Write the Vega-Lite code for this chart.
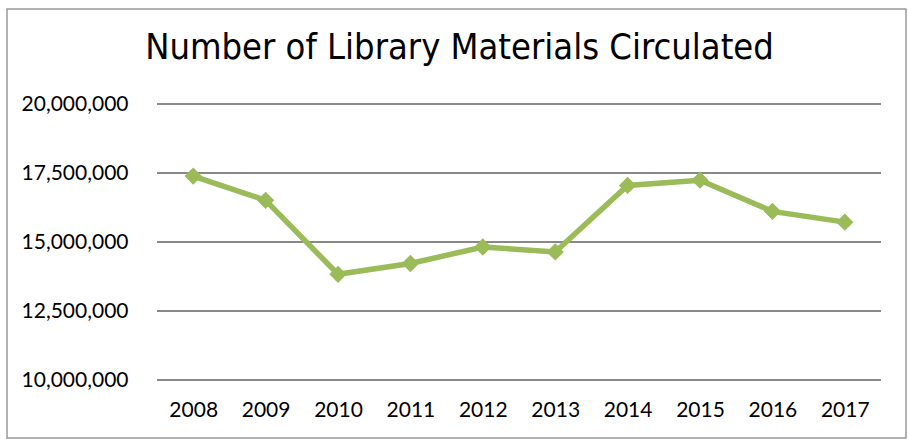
{
  "$schema": "https://vega.github.io/schema/vega-lite/v6.json",
  "width": 899,
  "height": 429,
  "autosize": {"type": "none"},
  "padding": {"left": 7, "top": 9, "right": 3, "bottom": 1},
  "background": "white",
  "config": {
    "view": {"stroke": "#999999", "strokeWidth": 1.5},
    "font": "Lato"
  },
  "title": {
    "text": "Number of Library Materials Circulated",
    "font": "DejaVu Sans Condensed, Liberation Sans",
    "fontSize": 36,
    "fontWeight": "normal",
    "color": "#000000",
    "anchor": "middle",
    "frame": "group",
    "baseline": "alphabetic",
    "offset": -53,
    "dy": 33,
    "dx": 3
  },
  "datasets": {
    "circ": [
      {"year": 2008, "items": 17390000},
      {"year": 2009, "items": 16510000},
      {"year": 2010, "items": 13830000},
      {"year": 2011, "items": 14220000},
      {"year": 2012, "items": 14820000},
      {"year": 2013, "items": 14640000},
      {"year": 2014, "items": 17050000},
      {"year": 2015, "items": 17240000},
      {"year": 2016, "items": 16110000},
      {"year": 2017, "items": 15720000}
    ],
    "grid": [
      {"level": 10000000},
      {"level": 12500000},
      {"level": 15000000},
      {"level": 17500000},
      {"level": 20000000}
    ]
  },
  "layer": [
    {
      "data": {"name": "grid"},
      "mark": {"type": "rule", "color": "#888888", "strokeWidth": 2},
      "encoding": {
        "y": {
          "field": "level",
          "type": "quantitative",
          "scale": {"domain": [10000000, 20000000], "range": [371, 95]},
          "axis": {
            "values": [10000000, 12500000, 15000000, 17500000, 20000000],
            "format": ",d",
            "orient": "left",
            "offset": -150,
            "labelPadding": 29,
            "labelFontSize": 21,
            "labelFont": "Lato",
            "labelColor": "#000000",
            "domain": false,
            "ticks": false,
            "grid": false,
            "title": null
          }
        },
        "x": {"datum": 2007.5, "type": "quantitative", "scale": {"domain": [2007.5, 2017.5], "range": [150, 874]}},
        "x2": {"datum": 2017.5}
      }
    },
    {
      "data": {"name": "circ"},
      "mark": {
        "type": "line",
        "color": "#9BBB59",
        "strokeWidth": 5.5,
        "point": {"shape": "diamond", "size": 300, "filled": true, "color": "#9BBB59", "opacity": 1}
      },
      "encoding": {
        "x": {
          "field": "year",
          "type": "quantitative",
          "scale": {"domain": [2007.5, 2017.5], "range": [150, 874]},
          "axis": {
            "values": [2008, 2009, 2010, 2011, 2012, 2013, 2014, 2015, 2016, 2017],
            "format": "d",
            "orient": "bottom",
            "offset": -58,
            "labelPadding": 19,
            "labelFontSize": 21,
            "labelFont": "Lato",
            "labelColor": "#000000",
            "domain": false,
            "ticks": false,
            "grid": false,
            "title": null
          }
        },
        "y": {"field": "items", "type": "quantitative", "scale": {"domain": [10000000, 20000000], "range": [371, 95]}}
      }
    }
  ]
}
